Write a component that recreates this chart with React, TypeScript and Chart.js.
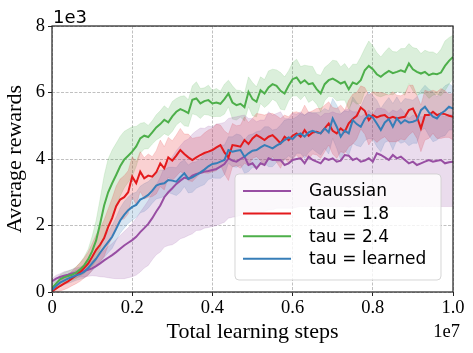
import React, { useEffect, useRef } from 'react';
import { Chart, registerables } from 'chart.js';

Chart.register(...registerables);

// x in units of 1e7 total learning steps, y in units of 1e3 reward
const STEPS: number[] = [
  0.00, 0.01, 0.02, 0.03, 0.04, 0.05, 0.06, 0.07, 0.08, 0.09,
  0.10, 0.11, 0.12, 0.13, 0.14, 0.15, 0.16, 0.17, 0.18, 0.19,
  0.20, 0.21, 0.22, 0.23, 0.24, 0.25, 0.26, 0.27, 0.28, 0.29,
  0.30, 0.31, 0.32, 0.33, 0.34, 0.35, 0.36, 0.37, 0.38, 0.39,
  0.40, 0.41, 0.42, 0.43, 0.44, 0.45, 0.46, 0.47, 0.48, 0.49,
  0.50, 0.51, 0.52, 0.53, 0.54, 0.55, 0.56, 0.57, 0.58, 0.59,
  0.60, 0.61, 0.62, 0.63, 0.64, 0.65, 0.66, 0.67, 0.68, 0.69,
  0.70, 0.71, 0.72, 0.73, 0.74, 0.75, 0.76, 0.77, 0.78, 0.79,
  0.80, 0.81, 0.82, 0.83, 0.84, 0.85, 0.86, 0.87, 0.88, 0.89,
  0.90, 0.91, 0.92, 0.93, 0.94, 0.95, 0.96, 0.97, 0.98, 0.99, 1.00,
];

const GAUSSIAN_MEAN: number[] = [
  0.32, 0.40, 0.45, 0.49, 0.52, 0.56, 0.58, 0.60, 0.63, 0.67,
  0.71, 0.78, 0.86, 0.95, 1.03, 1.11, 1.20, 1.30, 1.40, 1.48,
  1.56, 1.66, 1.80, 1.92, 2.05, 2.22, 2.42, 2.60, 2.85, 3.00,
  3.12, 3.25, 3.35, 3.44, 3.40, 3.50, 3.55, 3.58, 3.62, 3.64,
  3.67, 3.70, 3.77, 3.85, 4.02, 3.95, 3.92, 4.00, 4.07, 3.82,
  3.87, 3.72, 3.87, 3.82, 4.02, 3.97, 3.97, 3.97, 3.82, 3.87,
  3.97, 4.00, 4.02, 3.87, 4.07, 3.97, 3.92, 3.87, 4.02, 3.97,
  4.02, 3.92, 3.95, 4.12, 4.10, 3.97, 4.02, 3.92, 3.95, 4.02,
  3.92, 4.17, 4.12, 4.05, 3.97, 4.12, 4.02, 4.07, 3.97, 3.87,
  3.92, 3.82, 3.87, 3.92, 3.97, 3.92, 3.95, 3.97, 3.87, 3.90, 3.92,
];
const GAUSSIAN_UP: number[] = [
  0.08, 0.10, 0.10, 0.12, 0.12, 0.12, 0.14, 0.15, 0.18, 0.20,
  0.22, 0.25, 0.28, 0.30, 0.33, 0.35, 0.38, 0.40, 0.42, 0.45,
  0.50, 0.55, 0.60, 0.65, 0.70, 0.75, 0.80, 0.85, 0.90, 0.90,
  0.95, 1.00, 1.05, 1.10, 1.20, 1.25, 1.30, 1.35, 1.30, 1.35,
  1.30, 1.35, 1.30, 1.25, 1.20, 1.30, 1.35, 1.30, 1.25, 1.40,
  1.35, 1.40, 1.30, 1.35, 1.40, 1.35, 1.40, 1.45, 1.40, 1.35,
  1.40, 1.35, 1.40, 1.45, 1.35, 1.40, 1.45, 1.40, 1.35, 1.40,
  1.40, 1.45, 1.40, 1.35, 1.40, 1.45, 1.40, 1.35, 1.40, 1.45,
  1.40, 1.35, 1.40, 1.45, 1.40, 1.35, 1.40, 1.45, 1.40, 1.35,
  1.40, 1.45, 1.40, 1.35, 1.40, 1.45, 1.40, 1.35, 1.40, 1.45, 1.40,
];
const GAUSSIAN_DOWN: number[] = [
  0.08, 0.10, 0.10, 0.12, 0.12, 0.13, 0.14, 0.15, 0.18, 0.20,
  0.22, 0.30, 0.40, 0.50, 0.60, 0.70, 0.80, 0.90, 1.00, 1.05,
  1.10, 1.15, 1.20, 1.20, 1.25, 1.25, 1.30, 1.40, 1.50, 1.60,
  1.70, 1.75, 1.75, 1.80, 1.70, 1.75, 1.70, 1.72, 1.70, 1.70,
  1.70, 1.70, 1.72, 1.75, 1.80, 1.70, 1.65, 1.70, 1.75, 1.50,
  1.55, 1.40, 1.50, 1.40, 1.55, 1.50, 1.45, 1.45, 1.30, 1.35,
  1.45, 1.45, 1.45, 1.30, 1.50, 1.40, 1.35, 1.30, 1.45, 1.40,
  1.45, 1.35, 1.38, 1.55, 1.55, 1.40, 1.45, 1.35, 1.38, 1.45,
  1.35, 1.60, 1.55, 1.48, 1.40, 1.55, 1.45, 1.50, 1.40, 1.30,
  1.35, 1.25, 1.30, 1.35, 1.40, 1.35, 1.38, 1.40, 1.30, 1.33, 1.35,
];

const TAU18_MEAN: number[] = [
  0.02, 0.10, 0.18, 0.25, 0.32, 0.41, 0.50, 0.60, 0.72, 0.85,
  1.05, 1.27, 1.42, 1.62, 1.95, 2.22, 2.58, 2.78, 2.85, 3.00,
  3.47, 3.27, 3.62, 3.42, 3.50, 3.47, 3.60, 3.87, 3.72, 4.05,
  3.95, 4.10, 4.27, 4.15, 4.05, 3.97, 4.05, 4.12, 4.18, 4.22,
  4.27, 4.35, 4.42, 4.20, 4.05, 4.42, 4.40, 4.37, 4.57, 4.45,
  4.62, 4.72, 4.65, 4.57, 4.67, 4.72, 4.60, 4.47, 4.67, 4.57,
  4.70, 4.77, 4.67, 4.87, 4.70, 4.80, 4.82, 4.77, 4.92, 5.07,
  4.85, 4.77, 4.92, 4.82, 5.07, 5.20, 5.30, 5.55, 5.45, 5.17,
  5.32, 5.25, 5.30, 5.32, 5.22, 5.27, 5.22, 5.25, 5.27, 5.47,
  5.52, 5.27, 4.92, 5.32, 5.32, 5.42, 5.32, 5.37, 5.35, 5.30, 5.27,
];
const TAU18_SPREAD: number[] = [
  0.10, 0.12, 0.15, 0.18, 0.20, 0.22, 0.25, 0.28, 0.30, 0.35,
  0.40, 0.45, 0.50, 0.55, 0.55, 0.60, 0.60, 0.62, 0.65, 0.65,
  0.60, 0.65, 0.60, 0.62, 0.65, 0.60, 0.65, 0.70, 0.65, 0.60,
  0.60, 0.62, 0.65, 0.60, 0.70, 0.65, 0.60, 0.55, 0.60, 0.65,
  0.65, 0.70, 0.60, 0.65, 0.70, 0.65, 0.60, 0.65, 0.70, 0.65,
  0.60, 0.65, 0.70, 0.75, 0.70, 0.65, 0.70, 0.75, 0.65, 0.70,
  0.70, 0.65, 0.70, 0.75, 0.70, 0.65, 0.70, 0.75, 0.70, 0.65,
  0.70, 0.75, 0.70, 0.65, 0.70, 0.75, 0.70, 0.65, 0.70, 0.75,
  0.70, 0.75, 0.70, 0.65, 0.70, 0.75, 0.70, 0.65, 0.70, 0.75,
  0.70, 0.65, 0.70, 0.75, 0.70, 0.65, 0.70, 0.75, 0.70, 0.65, 0.70,
];

const TAU24_MEAN: number[] = [
  0.12, 0.25, 0.38, 0.44, 0.48, 0.52, 0.58, 0.68, 0.80, 0.98,
  1.22, 1.55, 2.05, 2.60, 3.00, 3.27, 3.52, 3.78, 3.98, 4.10,
  4.22, 4.38, 4.62, 4.70, 4.66, 4.80, 4.95, 5.05, 5.18, 5.10,
  5.28, 5.42, 5.50, 5.45, 5.38, 5.78, 5.82, 5.67, 5.74, 5.77,
  5.67, 5.70, 5.66, 5.80, 5.97, 5.70, 5.62, 5.66, 5.56, 6.02,
  5.80, 5.72, 6.07, 5.97, 6.15, 6.25, 6.20, 6.05, 5.97, 6.20,
  6.40, 6.45, 6.28, 6.37, 6.25, 6.28, 6.10, 5.97, 6.25, 6.37,
  6.42, 6.35, 6.27, 6.32, 6.10, 6.30, 6.25, 6.37, 6.67, 6.80,
  6.70, 6.55, 6.47, 6.57, 6.65, 6.58, 6.62, 6.67, 6.62, 6.87,
  6.70, 6.62, 6.57, 6.62, 6.52, 6.57, 6.55, 6.60, 6.80, 6.95, 7.07,
];
const TAU24_SPREAD: number[] = [
  0.10, 0.12, 0.14, 0.15, 0.15, 0.16, 0.18, 0.20, 0.25, 0.30,
  0.45, 0.60, 0.75, 0.90, 1.00, 1.00, 0.95, 0.90, 0.85, 0.80,
  0.75, 0.60, 0.45, 0.40, 0.35, 0.35, 0.38, 0.40, 0.42, 0.40,
  0.45, 0.40, 0.38, 0.45, 0.40, 0.42, 0.50, 0.45, 0.40, 0.45,
  0.40, 0.42, 0.38, 0.45, 0.40, 0.50, 0.45, 0.40, 0.42, 0.45,
  0.50, 0.45, 0.40, 0.42, 0.50, 0.45, 0.48, 0.55, 0.50, 0.45,
  0.50, 0.55, 0.50, 0.45, 0.55, 0.50, 0.45, 0.55, 0.50, 0.48,
  0.55, 0.60, 0.50, 0.55, 0.60, 0.55, 0.60, 0.70, 0.65, 0.75,
  0.70, 0.65, 0.60, 0.65, 0.70, 0.65, 0.60, 0.65, 0.70, 0.60,
  0.65, 0.70, 0.60, 0.65, 0.70, 0.65, 0.60, 0.70, 0.75, 0.70, 0.65,
];

const LEARNED_MEAN: number[] = [
  0.06, 0.18, 0.28, 0.34, 0.40, 0.45, 0.50, 0.54, 0.60, 0.72,
  0.86, 1.00, 1.18, 1.34, 1.50, 1.66, 1.90, 2.15, 2.32, 2.46,
  2.56, 2.62, 2.78, 2.84, 2.92, 3.05, 3.20, 3.25, 3.27, 3.37,
  3.35, 3.32, 3.45, 3.57, 3.40, 3.45, 3.52, 3.60, 3.68, 3.78,
  3.85, 3.87, 3.92, 3.97, 4.27, 4.22, 4.25, 4.27, 4.07, 4.17,
  4.25, 4.27, 4.35, 4.42, 4.37, 4.32, 4.40, 4.47, 4.57, 4.65,
  4.60, 4.72, 4.77, 4.67, 4.80, 4.85, 4.80, 4.77, 4.92, 4.80,
  5.22, 4.97, 4.67, 4.85, 4.77, 5.17, 5.05, 4.97, 5.20, 5.32,
  5.25, 5.07, 4.87, 5.10, 5.20, 4.97, 5.22, 5.07, 5.17, 5.10,
  5.12, 5.17, 5.47, 5.57, 5.40, 5.27, 5.22, 5.37, 5.45, 5.57, 5.52,
];
const LEARNED_SPREAD: number[] = [
  0.08, 0.10, 0.12, 0.12, 0.14, 0.15, 0.15, 0.16, 0.18, 0.20,
  0.22, 0.25, 0.28, 0.30, 0.32, 0.35, 0.35, 0.38, 0.40, 0.40,
  0.40, 0.38, 0.40, 0.42, 0.40, 0.38, 0.40, 0.42, 0.40, 0.38,
  0.40, 0.42, 0.45, 0.40, 0.42, 0.45, 0.40, 0.42, 0.45, 0.40,
  0.42, 0.45, 0.50, 0.45, 0.40, 0.45, 0.50, 0.45, 0.50, 0.55,
  0.50, 0.55, 0.50, 0.55, 0.60, 0.55, 0.50, 0.55, 0.60, 0.55,
  0.60, 0.55, 0.60, 0.65, 0.60, 0.55, 0.60, 0.65, 0.60, 0.65,
  0.60, 0.65, 0.70, 0.60, 0.65, 0.70, 0.65, 0.60, 0.65, 0.70,
  0.65, 0.70, 0.65, 0.60, 0.65, 0.70, 0.65, 0.60, 0.65, 0.70,
  0.65, 0.70, 0.60, 0.65, 0.70, 0.75, 0.65, 0.70, 0.75, 0.70, 0.65,
];

const SERIES_LABELS: string[] = ['Gaussian', 'tau = 1.8', 'tau = 2.4', 'tau = learned'];
const SERIES_COLORS: number[][] = [
  [152, 78, 163],
  [228, 26, 28],
  [77, 175, 74],
  [55, 126, 184],
];

const X_TICKS: number[] = [0, 0.2, 0.4, 0.6, 0.8, 1.0];
const X_TICK_LABELS: string[] = ['0', '0.2', '0.4', '0.6', '0.8', '1.0'];
const Y_TICKS: number[] = [0, 2, 4, 6, 8];
const Y_TICK_LABELS: string[] = ['0', '2', '4', '6', '8'];
const X_TITLE = 'Total learning steps';
const Y_TITLE = 'Average rewards';
const X_OFFSET_LABEL = '1e7';
const Y_OFFSET_LABEL = '1e3';

const SERIF = '"Liberation Serif", "Times New Roman", serif';
const SANS = '"DejaVu Sans", sans-serif';

const rgba = (c: number[], a: number) => `rgba(${c[0]},${c[1]},${c[2]},${a})`;

export default function App() {
  const canvasRef = useRef<HTMLCanvasElement | null>(null);

  useEffect(() => {
    const canvas = canvasRef.current;
    if (!canvas) return;

    const means = [GAUSSIAN_MEAN, TAU18_MEAN, TAU24_MEAN, LEARNED_MEAN];
    const ups = [GAUSSIAN_UP, TAU18_SPREAD, TAU24_SPREAD, LEARNED_SPREAD];
    const downs = [GAUSSIAN_DOWN, TAU18_SPREAD, TAU24_SPREAD, LEARNED_SPREAD];

    const datasets: any[] = [];
    means.forEach((m, k) => {
      const c = SERIES_COLORS[k];
      datasets.push({
        label: SERIES_LABELS[k] + ' upper',
        isBand: true,
        data: STEPS.map((x, i) => ({ x, y: m[i] + ups[k][i] })),
        fill: '+1',
        backgroundColor: rgba(c, 0.2),
        borderColor: rgba(c, 0.18),
        borderWidth: 0.8,
        pointRadius: 0,
        order: 10 + k,
      });
      datasets.push({
        label: SERIES_LABELS[k] + ' lower',
        isBand: true,
        data: STEPS.map((x, i) => ({ x, y: m[i] - downs[k][i] })),
        fill: false,
        borderColor: rgba(c, 0.18),
        borderWidth: 0.8,
        pointRadius: 0,
        order: 10 + k,
      });
    });
    means.forEach((m, k) => {
      datasets.push({
        label: SERIES_LABELS[k],
        isBand: false,
        data: STEPS.map((x, i) => ({ x, y: m[i] })),
        fill: false,
        borderColor: rgba(SERIES_COLORS[k], 1),
        borderWidth: 2,
        pointRadius: 0,
        order: 4 - k,
      });
    });

    const decor = {
      id: 'decor',
      afterDraw(chart: any) {
        const ctx = chart.ctx;
        const ca = chart.chartArea;
        ctx.save();
        // frame
        ctx.strokeStyle = '#222222';
        ctx.lineWidth = 1.2;
        ctx.strokeRect(ca.left, ca.top, ca.right - ca.left, ca.bottom - ca.top);
        // offset labels
        ctx.fillStyle = '#000';
        ctx.font = `18px ${SANS}`;
        ctx.textAlign = 'left';
        ctx.textBaseline = 'alphabetic';
        ctx.fillText(Y_OFFSET_LABEL, ca.left + 1, ca.top - 3);
        ctx.font = `18.5px ${SERIF}`;
        ctx.textAlign = 'right';
        ctx.fillText(X_OFFSET_LABEL, ca.right + 7, ca.bottom + 45);
        // legend
        const lines = chart.data.datasets.filter((d: any) => !d.isBand);
        const boxR = ca.right - 12;
        const boxB = ca.bottom - 12;
        const boxL = boxR - 206;
        const boxT = boxB - 106;
        ctx.beginPath();
        ctx.roundRect(boxL, boxT, boxR - boxL, boxB - boxT, 4);
        ctx.fillStyle = 'rgba(255,255,255,0.8)';
        ctx.fill();
        ctx.strokeStyle = 'rgba(204,204,204,0.8)';
        ctx.lineWidth = 1;
        ctx.stroke();
        ctx.font = `17px ${SANS}`;
        ctx.textAlign = 'left';
        ctx.textBaseline = 'middle';
        lines.forEach((d: any, i: number) => {
          const y = boxT + 17 + i * 22.6;
          ctx.strokeStyle = d.borderColor;
          ctx.lineWidth = 2;
          ctx.beginPath();
          ctx.moveTo(boxL + 8, y);
          ctx.lineTo(boxL + 56, y);
          ctx.stroke();
          ctx.fillStyle = '#000';
          ctx.fillText(d.label, boxL + 74, y + 1);
        });
        ctx.restore();
      },
    };

    const chart = new Chart(canvas, {
      type: 'line',
      data: { datasets },
      plugins: [decor],
      options: {
        animation: false,
        responsive: false,
        devicePixelRatio: 1,
        layout: { padding: { top: 26, right: 20, left: 0, bottom: 0 } },
        plugins: {
          legend: { display: false },
          tooltip: { enabled: false },
          title: { display: false },
        },
        elements: { line: { tension: 0 } },
        scales: {
          x: {
            type: 'linear',
            min: 0,
            max: 1,
            afterFit: (s: any) => { s.height = 61; },
            afterBuildTicks: (s: any) => { s.ticks = X_TICKS.map((v) => ({ value: v })); },
            ticks: {
              callback: (_v: any, i: number) => X_TICK_LABELS[i],
              font: { family: SERIF, size: 18.5 },
              color: '#000',
              padding: 1,
              maxRotation: 0,
              autoSkip: false,
            },
            grid: {
              color: '#b0b0b0',
              lineWidth: 0.8,
              drawTicks: true,
              tickLength: 4,
              tickColor: '#222222',
              tickWidth: 1,
              tickBorderDash: [],
            },
            border: { display: false, dash: [3, 1.5] },
            title: {
              display: true,
              text: X_TITLE,
              font: { family: SERIF, size: 22 },
              color: '#000',
              padding: { top: 0, bottom: 8 },
            },
          },
          y: {
            type: 'linear',
            min: 0,
            max: 8,
            afterFit: (s: any) => { s.width = 52; },
            afterBuildTicks: (s: any) => { s.ticks = Y_TICKS.map((v) => ({ value: v })); },
            ticks: {
              callback: (_v: any, i: number) => Y_TICK_LABELS[i],
              font: { family: SERIF, size: 18.5 },
              color: '#000',
              padding: 3,
              autoSkip: false,
            },
            grid: {
              color: '#b0b0b0',
              lineWidth: 0.8,
              drawTicks: true,
              tickLength: 4,
              tickColor: '#222222',
              tickWidth: 1,
              tickBorderDash: [],
            },
            border: { display: false, dash: [3, 1.5] },
            title: {
              display: true,
              text: Y_TITLE,
              font: { family: SERIF, size: 22 },
              color: '#000',
              padding: { top: 2, bottom: 0 },
            },
          },
        },
      } as any,
    });

    return () => chart.destroy();
  }, []);

  return (
    <div style={{ position: 'absolute', left: 0, top: 0, width: 473, height: 353, background: '#fff' }}>
      <canvas ref={canvasRef} width={473} height={353} style={{ width: 473, height: 353, display: 'block' }} />
    </div>
  );
}
